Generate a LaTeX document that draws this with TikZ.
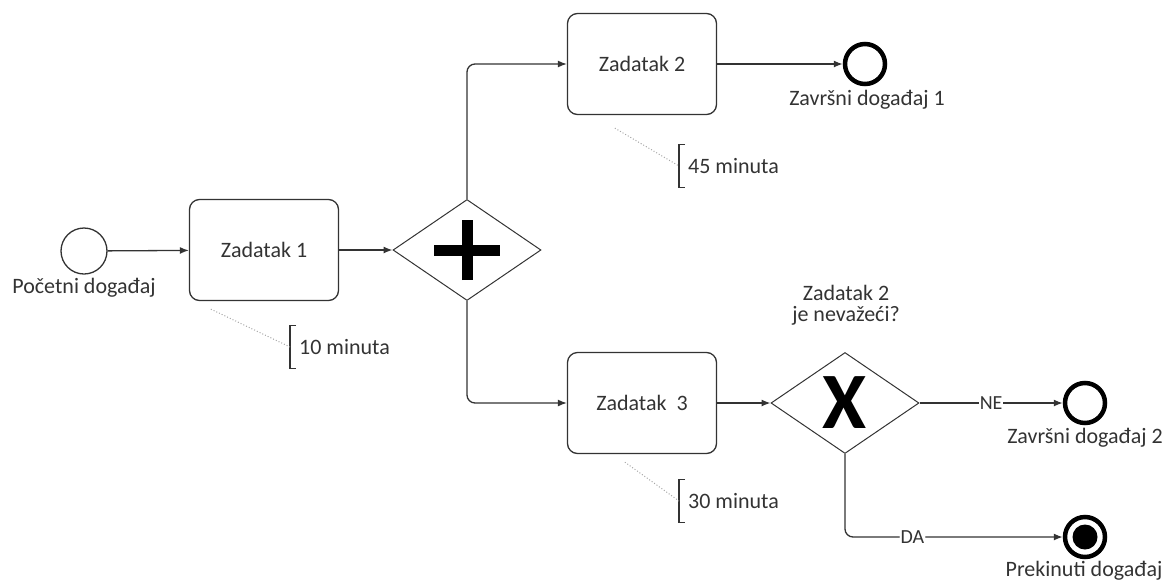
\documentclass[tikz,border=0pt]{standalone}
\usepackage{fontspec}
\setmainfont{Carlito}
\usetikzlibrary{shapes.geometric,arrows.meta,positioning}
\definecolor{ink}{HTML}{333333}

\begin{document}
\begin{tikzpicture}[x=1pt,y=-1pt,>={Latex[length=9pt,width=7pt]},
  every node/.style={font=\fontsize{22}{21}\selectfont,text=ink},
  task/.style={draw=ink,line width=1.3pt,rounded corners=10pt,
    minimum width=149pt,minimum height=101pt},
  gate/.style={draw=ink,line width=1pt,diamond,
    minimum width=148pt,minimum height=101pt,inner sep=0pt},
  startev/.style={draw=ink,line width=1.3pt,circle,minimum size=46pt,inner sep=0pt},
  endev/.style={draw=black,line width=4.5pt,circle,minimum size=40pt,inner sep=0pt},
  flow/.style={->,line width=1.3pt,draw=ink},
  assoc/.style={dotted,line width=1pt,draw=black!35},
  note/.style={anchor=west,inner xsep=9pt,inner ysep=0pt,minimum height=43pt},
  onflow/.style={fill=white,inner sep=1pt,font=\fontsize{20}{20}\selectfont}]
  \useasboundingbox (0,0) rectangle (1168,582);

  % events, tasks and gateways
  \node[startev] (start) at (84,251) {};
  \node[task] (task1) at (264,250) {Zadatak 1};
  \node[gate] (fork) at (467,250) {};
  \node[task] (task2) at (642,64) {Zadatak 2};
  \node[task] (task3) at (642,403) {Zadatak\ \ 3};
  \node[gate] (check) at (845,403) {};
  \node[font=\fontsize{80}{80}\selectfont\bfseries,text=black,inner sep=0pt]
    (xmark) at (check.center) {X};
  \node[endev] (end1) at (865,64) {};
  \node[endev] (end2) at (1085,403) {};
  \node[endev] (abort) at (1085,537) {};
  \fill[black] (abort.center) circle (12.5pt);
  \draw[black,line width=11pt] ([xshift=-33pt]fork.center) -- ([xshift=33pt]fork.center);
  \draw[black,line width=11pt] ([yshift=-30pt]fork.center) -- ([yshift=30pt]fork.center);

  % labels
  \node (start lbl) at (84,288) {Početni događaj};
  \node (end1 lbl) at (867,100) {Završni događaj 1};
  \node (end2 lbl) at (1085,438) {Završni događaj 2};
  \node (abort lbl) at (1084,571) {Prekinuti događaj};
  \node[align=center] (check lbl) at (846,305) {Zadatak 2\\je nevažeći?};

  % sequence flows
  \draw[flow] (start) -- (task1);
  \draw[flow] (task1) -- (fork);
  \draw[flow,rounded corners=8pt] (fork.north) |- (task2.west);
  \draw[flow,rounded corners=8pt] (fork.south) |- (task3.west);
  \draw[flow] (task2) -- (end1);
  \draw[flow] (task3) -- (check);
  \draw[flow] (check.east) -- node[onflow] {NE} (end2.west);
  \draw[flow,rounded corners=8pt] (check.south) |- node[onflow,pos=0.655] {DA} (abort.west);

  % time annotations
  \node[note] (note1) at (290,347) {10 minuta};
  \node[note] (note2) at (679,166) {45 minuta};
  \node[note] (note3) at (679,501) {30 minuta};
  \foreach \n in {note1,note2,note3}
    \draw[ink,line width=1.3pt] ([xshift=6pt]\n.north west) -- (\n.north west)
      -- (\n.south west) -- ([xshift=6pt]\n.south west);
  \draw[assoc] ([shift={(22,8)}]task1.south west) -- (note1.west);
  \draw[assoc] ([shift={(48,13)}]task2.south west) -- (note2.west);
  \draw[assoc] ([shift={(58,8)}]task3.south west) -- (note3.west);
\end{tikzpicture}
\end{document}
